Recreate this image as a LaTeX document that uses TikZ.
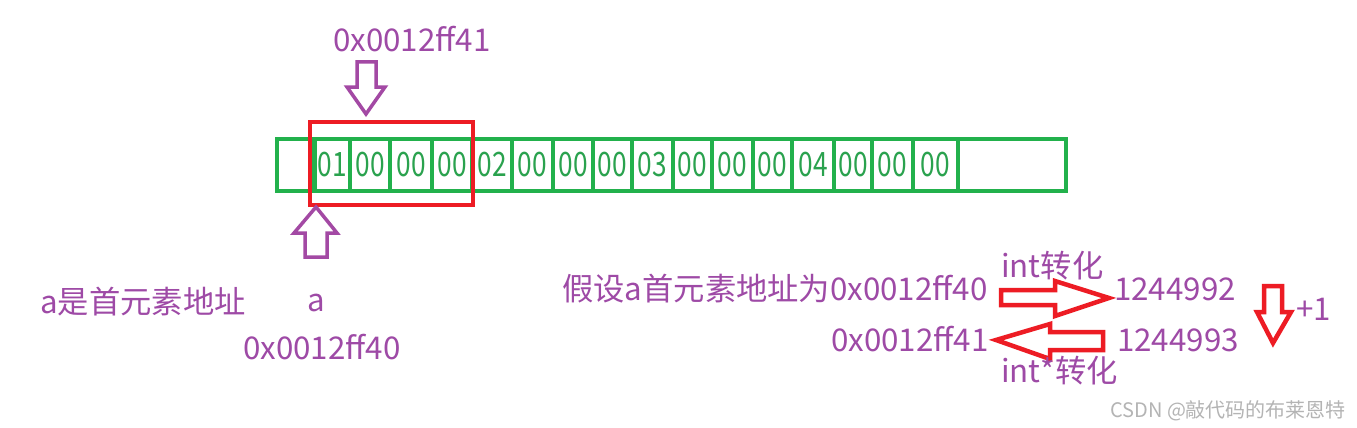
\documentclass[tikz,border=0pt]{standalone}
\usepackage{fontspec}
\usepackage{graphicx}
\setmainfont{Noto Sans CJK SC}
\definecolor{pgreen}{HTML}{22B14C}
\definecolor{tgreen}{HTML}{2AA24E}
\definecolor{pred}{HTML}{ED1C24}
\definecolor{ppurple}{HTML}{A349A4}
\definecolor{tpurple}{HTML}{9E4AA6}
\definecolor{wgray}{HTML}{B4B4B4}
\newcommand\celltext[1]{\scalebox{0.82}[1.05]{\fontsize{32}{32}\selectfont #1}}
\tikzset{
  cell/.style={draw=pgreen, line width=4pt, minimum height=52pt, inner sep=0pt, outer sep=0pt, text=tgreen},
  lbl/.style={text=tpurple, inner sep=0pt, anchor=base west, font=\fontsize{31.3}{31.3}\selectfont},
  wmark/.style={text=wgray, inner sep=0pt, anchor=base west, font=\fontsize{20}{20}\selectfont},
  parrow/.style={draw=ppurple, line width=3.5pt, line join=miter},
  rarrow/.style={draw=pred, line width=4.5pt, line join=miter},
}
\begin{document}
\begin{tikzpicture}[x=1pt,y=-1pt]
\useasboundingbox (0,0) rectangle (1357,428);
\fill[white] (0,0) rectangle (1357,428);
% memory strip
\node[cell, minimum width=38pt, anchor=west] (c0) at (277,165) {};
\foreach \l/\r/\t [count=\i] in {314/350/01, 350/390/00, 390/432/00, 432/472/00,
  472/512/02, 512/553/00, 553/593/00, 593/632/00, 632/673/03, 673/712/00,
  712/753/00, 753/792/00, 792/834/04, 834/872/00, 872/913/00, 913/958/00}
  { \node[cell, minimum width={\r-\l}, anchor=west] (c\i) at (\l,165) {\celltext{\t}}; }
\node[cell, minimum width=108pt, anchor=west] (c17) at (958,165) {};
% red frame around first element
\node[draw=pred, line width=4pt, inner sep=0pt, minimum width=163pt, minimum height=83pt] (frame) at (391.5,163.5) {};
% purple arrows
\draw[parrow] (357,62) -- (376,62) -- (376,87) -- (385,87) -- (366,114) -- (347,87) -- (357,87) -- cycle;
\draw[parrow] (305,257) -- (327,257) -- (327,233) -- (337,233) -- (316,207) -- (294,233) -- (305,233) -- cycle;
% red arrows
\draw[rarrow] (1001,290) -- (1055,290) -- (1055,281) -- (1109,298) -- (1055,316) -- (1055,305) -- (1001,305) -- cycle;
\draw[rarrow] (1103,332) -- (1050,332) -- (1050,324) -- (996,340) -- (1050,359) -- (1050,350) -- (1103,350) -- cycle;
\draw[rarrow] (1264,286) -- (1282,286) -- (1282,312) -- (1291,312) -- (1273,343) -- (1257,312) -- (1264,312) -- cycle;
% labels
\node[lbl] (top) at (333,52) {0x0012ff41};
\node[lbl] (afirst) at (40,313) {a是首元素地址};
\node[lbl] (a) at (307,311) {a};
\node[lbl] (addr) at (243,359) {0x0012ff40};
\node[lbl] (assume) at (562,300) {假设a首元素地址为0x0012ff40};
\node[lbl] (int) at (1001,277) {int转化};
\node[lbl] (n1) at (1114,300) {1244992};
\node[lbl] (addr2) at (831,351) {0x0012ff41};
\node[lbl] (n2) at (1117,351) {1244993};
\node[lbl] (intp) at (1001,382) {int*转化};
\node[lbl] (plus) at (1296,320) {+1};
\node[wmark] (wm) at (1110,417) {CSDN @敲代码的布莱恩特};
\end{tikzpicture}
\end{document}
